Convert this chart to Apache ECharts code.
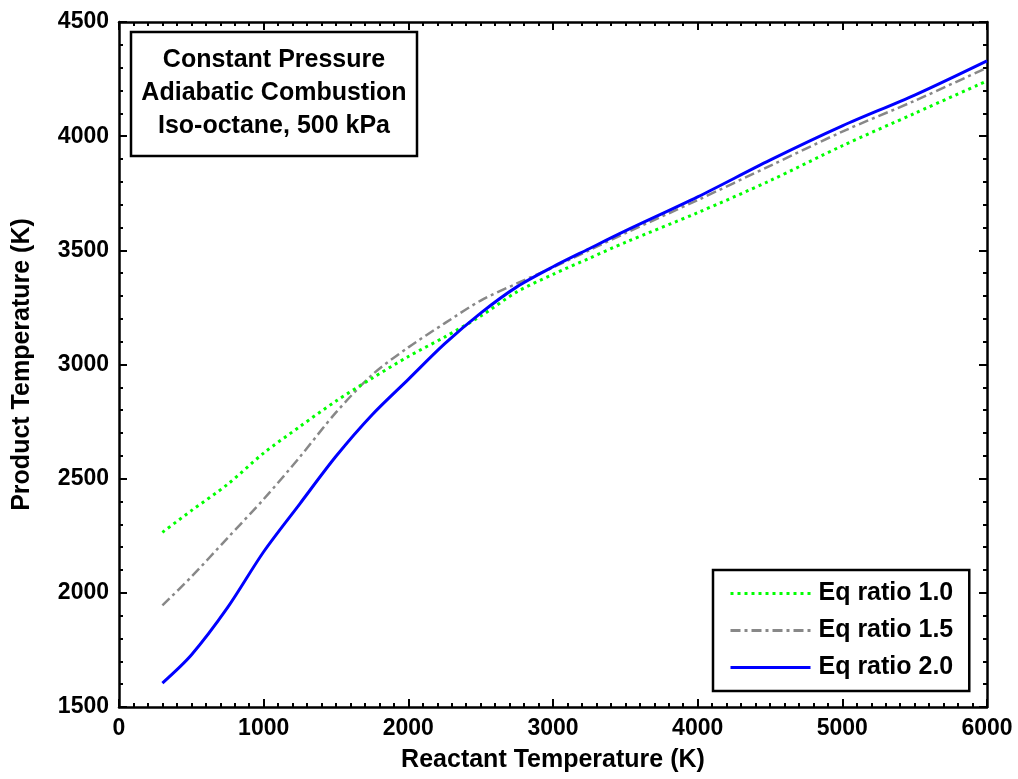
<!DOCTYPE html>
<html>
<head>
<meta charset="utf-8">
<script src="https://cdn.jsdelivr.net/npm/echarts@6/dist/echarts.min.js"></script>
<style>html,body{margin:0;padding:0;background:#fff;}#c{width:1018px;height:779px;}</style>
</head>
<body>
<div id="c"></div>
<script>
var reactantT = [300, 500, 750, 1000, 1250, 1500, 1750, 2000, 2250, 2500, 2750, 3000, 3250, 3500, 4000, 4500, 5000, 5500, 6000];
var eq10 = [2265, 2360, 2475, 2612, 2728, 2840, 2940, 3035, 3120, 3212, 3318, 3395, 3465, 3535, 3665, 3805, 3958, 4100, 4242];
var eq15 = [1945, 2070, 2240, 2410, 2595, 2790, 2955, 3075, 3180, 3280, 3355, 3425, 3500, 3575, 3720, 3870, 4020, 4155, 4300];
var eq20 = [1605, 1728, 1935, 2180, 2390, 2598, 2780, 2935, 3090, 3225, 3340, 3428, 3507, 3585, 3734, 3895, 4045, 4180, 4330];
var seriesNames = ['Eq ratio 1.0', 'Eq ratio 1.5', 'Eq ratio 2.0'];
var boxLines = ['Constant Pressure', 'Adiabatic Combustion', 'Iso-octane, 500 kPa'];
var xName = 'Reactant Temperature (K)';
var yName = 'Product Temperature (K)';

function pairs(ys) { return reactantT.map(function (x, i) { return [x, ys[i]]; }); }
function plain(v) { return String(v); }

var FONT = '"Liberation Sans", Arial, sans-serif';
var axisCommon = {
  axisLine: { show: true, onZero: false, lineStyle: { color: '#000', width: 2.5 } },
  axisTick: { show: true, inside: true, length: 8, lineStyle: { color: '#000', width: 2 } },
  minorTick: { show: true, length: 4, lineStyle: { color: '#000', width: 2 } },
  splitLine: { show: false },
  minorSplitLine: { show: false }
};
function mk(extra) {
  var o = JSON.parse(JSON.stringify(axisCommon));
  for (var k in extra) o[k] = extra[k];
  o.minorTick.splitNumber = extra._minor; delete o._minor; return o;
}
var labelStyle = { show: true, fontFamily: FONT, fontWeight: 'bold', fontSize: 23, color: '#000', formatter: plain };

var chart = echarts.init(document.getElementById('c'), null, { renderer: 'canvas' });
chart.setOption({
  backgroundColor: '#fff',
  animation: false,
  grid: { left: 119, right: 31, top: 22, bottom: 72, containLabel: false },
  xAxis: [
    mk({ type: 'value', position: 'bottom', min: 0, max: 6000, interval: 1000, _minor: 10,
      name: xName, nameLocation: 'middle', nameGap: 41,
      nameTextStyle: { fontFamily: FONT, fontWeight: 'bold', fontSize: 25, color: '#000' },
      axisLabel: Object.assign({ margin: 10 }, labelStyle) }),
    mk({ type: 'value', position: 'top', min: 0, max: 6000, interval: 1000, _minor: 10,
      axisLabel: { show: false } })
  ],
  yAxis: [
    mk({ type: 'value', position: 'left', min: 1500, max: 4500, interval: 500, _minor: 5,
      name: yName, nameLocation: 'middle', nameGap: 84, nameRotate: 90,
      nameTextStyle: { fontFamily: FONT, fontWeight: 'bold', fontSize: 25, color: '#000' },
      axisLabel: Object.assign({ margin: 10 }, labelStyle) }),
    mk({ type: 'value', position: 'right', min: 1500, max: 4500, interval: 500, _minor: 5,
      axisLabel: { show: false } })
  ],
  legend: {
    orient: 'vertical', left: 713, top: 570,
    data: seriesNames,
    backgroundColor: '#fff', borderColor: '#000', borderWidth: 2.5, borderRadius: 0,
    padding: [11, 16, 11, 16],
    itemWidth: 80, itemHeight: 12, itemGap: 12,
    itemStyle: { opacity: 0 },
    lineStyle: { width: 3 },
    textStyle: { fontFamily: FONT, fontWeight: 'bold', fontSize: 25, color: '#000', lineHeight: 25, padding: [0, 0, 0, 3] }
  },
  series: [
    { name: seriesNames[0], type: 'line', data: pairs(eq10), symbol: 'none', smooth: 0.3, z: 3,
      lineStyle: { color: '#00ff00', width: 3, type: [3, 4] }, itemStyle: { color: '#00ff00' } },
    { name: seriesNames[1], type: 'line', data: pairs(eq15), symbol: 'none', smooth: 0.3, z: 2,
      lineStyle: { color: '#888888', width: 2.5, type: [10, 4, 3, 4] }, itemStyle: { color: '#888888' } },
    { name: seriesNames[2], type: 'line', data: pairs(eq20), symbol: 'none', smooth: 0.3, z: 4,
      lineStyle: { color: '#0000ff', width: 3, type: 'solid' }, itemStyle: { color: '#0000ff' } }
  ],
  graphic: [
    { type: 'rect', x: 131, y: 32, z: 100,
      shape: { x: 0, y: 0, width: 286, height: 124 },
      style: { fill: '#fff', stroke: '#000', lineWidth: 2.5 } },
    { type: 'text', x: 274, y: 93, z: 101,
      style: { text: boxLines.join('\n'), align: 'center', verticalAlign: 'middle',
        font: 'bold 25px ' + FONT, fill: '#000', lineHeight: 33 } }
  ]
});
</script>
</body>
</html>
